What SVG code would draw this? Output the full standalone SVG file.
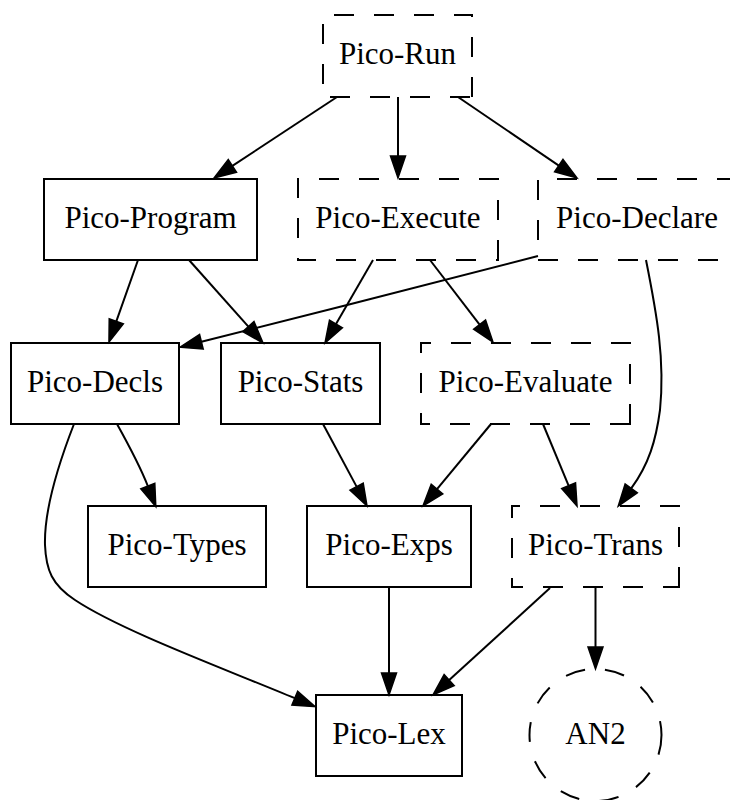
<svg xmlns="http://www.w3.org/2000/svg" width="730" height="800" viewBox="0 0 730 800">
  <style>
    .box { fill: none; stroke: #000; stroke-width: 2; }
    .dashed { stroke-dasharray: 20 20; }
    .label { font-family: "Liberation Serif", "Times New Roman", serif; font-size: 31px; fill: #000; text-anchor: middle; }
    .edge { fill: none; stroke: #000; stroke-width: 2; marker-end: url(#arrow); }
  </style>
  <defs>
    <marker id="arrow" markerUnits="userSpaceOnUse" viewBox="0 -8 23 16" refX="0" refY="0" markerWidth="23" markerHeight="16" orient="auto" overflow="visible">
      <polygon points="0,-7.5 22,0 0,7.5" fill="#000" stroke="#000" stroke-width="1.5" stroke-linejoin="miter"/>
    </marker>
  </defs>

  <rect width="730" height="800" fill="#fff"/>

  <!-- connectors -->
  <g id="edges">
    <path class="edge" d="M337,97 L232.4,165.9"/>
    <path class="edge" d="M398,97 L398,156"/>
    <path class="edge" d="M458,97 L558.8,165.6"/>
    <path class="edge" d="M138,260 L116.3,321.3"/>
    <path class="edge" d="M189,260 L248.4,326.6"/>
    <path class="edge" d="M373,260 L336,324"/>
    <path class="edge" d="M430,260 L479.6,324.6"/>
    <path class="edge" d="M538,256 C532,258 300,317 201.4,341.8"/>
    <path class="edge" d="M646,260 C657,315 665,360 660,410 C656,440 649,464 631.2,488.4"/>
    <path class="edge" d="M117,424 C127,442 140,466 147.8,486"/>
    <path class="edge" d="M74,424 C60,460 44,510 45,545 C46,570 52,585 75,600 C120,630 220,667 294.8,698.2"/>
    <path class="edge" d="M323,424 L356.6,486.6"/>
    <path class="edge" d="M491,424 L437,489.1"/>
    <path class="edge" d="M543,424 L568.6,485.7"/>
    <path class="edge" d="M389,587 L389,673"/>
    <path class="edge" d="M550,588 L449.2,680.1"/>
    <path class="edge" d="M595.5,587 L595.5,647"/>
  </g>

  <!-- nodes -->
  <g id="pico-run">
    <path class="box dashed" d="M472,97 L472,15 L323,15 L323,97 Z"/>
    <text class="label" x="397.5" y="64">Pico-Run</text>
  </g>
  <g id="pico-program">
    <rect class="box" x="44" y="179" width="213" height="81"/>
    <text class="label" x="150.5" y="228">Pico-Program</text>
  </g>
  <g id="pico-execute">
    <path class="box dashed" d="M498,260 L498,179 L298,179 L298,260 Z"/>
    <text class="label" x="398" y="228">Pico-Execute</text>
  </g>
  <g id="pico-declare">
    <path class="box dashed" d="M736,260 L736,179 L538,179 L538,260 Z"/>
    <text class="label" x="637" y="228">Pico-Declare</text>
  </g>
  <g id="pico-decls">
    <rect class="box" x="11" y="343" width="168" height="81"/>
    <text class="label" x="95" y="392">Pico-Decls</text>
  </g>
  <g id="pico-stats">
    <rect class="box" x="221" y="343" width="159" height="81"/>
    <text class="label" x="300.5" y="392">Pico-Stats</text>
  </g>
  <g id="pico-evaluate">
    <path class="box dashed" d="M630,424 L630,343 L421,343 L421,424 Z"/>
    <text class="label" x="525.5" y="392">Pico-Evaluate</text>
  </g>
  <g id="pico-types">
    <rect class="box" x="88" y="506" width="178" height="81"/>
    <text class="label" x="177" y="555">Pico-Types</text>
  </g>
  <g id="pico-exps">
    <rect class="box" x="307" y="506" width="164" height="81"/>
    <text class="label" x="389" y="555">Pico-Exps</text>
  </g>
  <g id="pico-trans">
    <path class="box dashed" d="M679,587 L679,506 L512,506 L512,587 Z"/>
    <text class="label" x="595.5" y="555">Pico-Trans</text>
  </g>
  <g id="pico-lex">
    <rect class="box" x="316" y="695" width="146" height="81"/>
    <text class="label" x="389" y="744">Pico-Lex</text>
  </g>
  <g id="an2">
    <circle class="box dashed" cx="595.5" cy="735" r="66"/>
    <text class="label" x="595.5" y="744">AN2</text>
  </g>
</svg>
